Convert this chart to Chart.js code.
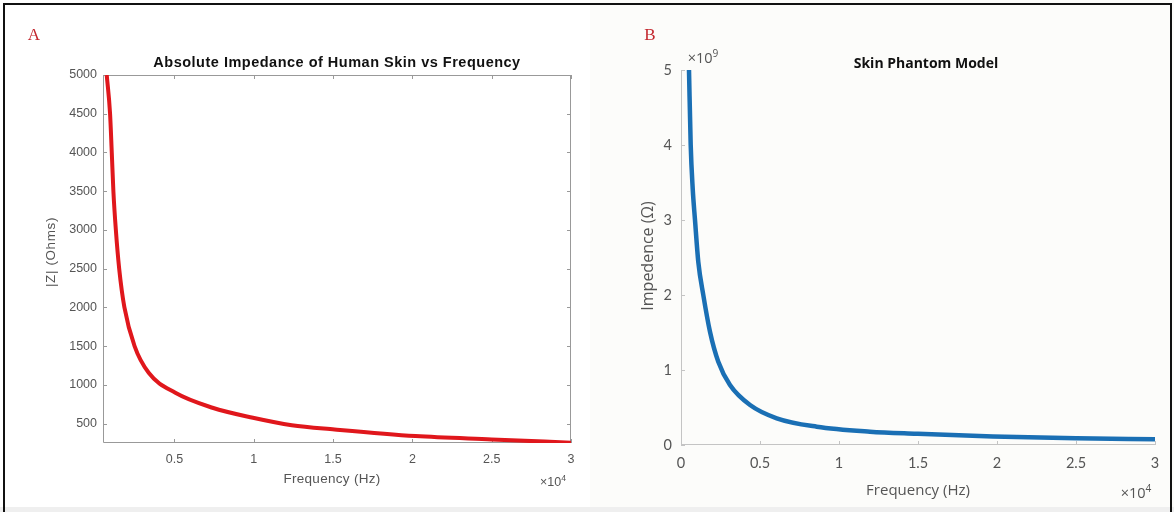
<!DOCTYPE html>
<html>
<head>
<meta charset="utf-8">
<script src="https://cdn.jsdelivr.net/npm/chart.js@4.4.1/dist/chart.umd.min.js"></script>
<style>
  html, body { margin: 0; padding: 0; background: #ffffff; }
  body { width: 1174px; height: 512px; position: relative; overflow: hidden; }
  #rightBg { position: absolute; left: 590px; top: 0; width: 584px; height: 512px; background: #fcfcfa; }
  #bottomBand { position: absolute; left: 0; top: 507px; width: 1174px; height: 5px; background: #efefef; }
  #frame { position: absolute; left: 3px; top: 3px; width: 1165px; height: 507px; border: 2.5px solid #111; border-bottom: none; }
  .panel { position: absolute; top: 0; }
  .txt { position: absolute; white-space: nowrap; transform: translate(-50%, -50%); }
  .left { font-family: "Liberation Sans", Arial, sans-serif; color: #555; }
  .right { font-family: "Open Sans", Lato, sans-serif; color: #555; }
  sup { font-size: 70%; vertical-align: 0; position: relative; top: -0.55em; }
</style>
</head>
<body>
<div id="rightBg"></div>
<div id="bottomBand"></div>
<div class="panel" style="left:0;width:590px;height:512px"><canvas id="skinChart" width="590" height="512"></canvas></div>
<div class="panel" style="left:590px;width:584px;height:512px"><canvas id="phantomChart" width="584" height="512"></canvas></div>
<div id="frame"></div>

<!-- panel A texts -->
<div class="txt" style="left:34px;top:35px;font-family:'Liberation Serif',serif;font-size:17px;color:#c3272e">A</div>
<div class="txt left" style="left:337px;top:62px;font-size:14.5px;letter-spacing:0.5px;font-weight:bold;color:#111">Absolute Impedance of Human Skin vs Frequency</div>
<div class="txt left" style="left:50px;top:252px;font-size:13.5px;letter-spacing:0.6px;transform:translate(-50%,-50%) rotate(-90deg)">|Z| (Ohms)</div>
<div class="txt left" style="left:332px;top:478px;font-size:13.5px;letter-spacing:0.3px">Frequency (Hz)</div>
<div class="txt left" style="left:553px;top:482px;font-size:12.5px">×10<sup>4</sup></div>

<!-- panel B texts -->
<div class="txt" style="left:650px;top:35px;font-family:'Liberation Serif',serif;font-size:17px;color:#c3272e">B</div>
<div class="txt right" style="left:926px;top:62px;font-size:14px;font-weight:bold;color:#111">Skin Phantom Model</div>
<div class="txt right" style="left:703px;top:57px;font-size:14.5px">×10<sup>9</sup></div>
<div class="txt right" style="left:647px;top:256px;font-size:16px;transform:translate(-50%,-50%) rotate(-90deg)">Impedence (Ω)</div>
<div class="txt right" style="left:918px;top:489px;font-size:15px">Frequency (Hz)</div>
<div class="txt right" style="left:1136px;top:492px;font-size:14.5px">×10<sup>4</sup></div>

<script>
// Panel A: human skin, |Z| in ohms vs frequency in Hz
const skinFreq = [735, 945, 1053, 1155, 1310, 1520, 1850, 2490, 3380, 5060, 7400, 9950, 12400, 15100, 20200, 25000, 30000];
const skinZ = [5000, 4500, 4000, 3500, 3000, 2500, 2000, 1500, 1156, 898, 705, 576, 480, 425, 339, 296, 254];
const skinXTicks = [5000, 10000, 15000, 20000, 25000, 30000];
const skinYTicks = [500, 1000, 1500, 2000, 2500, 3000, 3500, 4000, 4500, 5000];

// Panel B: skin phantom model, impedance in ohms
const phantomFreq = [506, 614, 740, 886, 1095, 1411, 1835, 2360, 3100, 4370, 6060, 8590, 11960, 14900, 19750, 25040, 30000];
const phantomZ = [5.0e9, 4.0e9, 3.42e9, 3.0e9, 2.44e9, 2.0e9, 1.51e9, 1.11e9, 0.80e9, 0.533e9, 0.356e9, 0.244e9, 0.178e9, 0.150e9, 0.112e9, 0.089e9, 0.076e9];
const phantomXTicks = [0, 5000, 10000, 15000, 20000, 25000, 30000];
const phantomYTicks = [0, 1e9, 2e9, 3e9, 4e9, 5e9];

// draws the matlab-like axes: box or L-shape, ticks pointing inwards
const matlabAxes = {
  id: 'matlabAxes',
  beforeDatasetsDraw(chart, args, opts) {
    const { ctx, chartArea: a, scales: { x, y } } = chart;
    const len = opts.tickLen;
    ctx.save();
    ctx.strokeStyle = opts.color;
    ctx.lineWidth = 1;
    ctx.beginPath();
    if (opts.box) {
      ctx.rect(a.left + 0.5, a.top + 0.5, a.right - a.left - 1, a.bottom - a.top - 1);
    } else {
      ctx.moveTo(a.left + 0.5, a.top);
      ctx.lineTo(a.left + 0.5, a.bottom - 0.5);
      ctx.lineTo(a.right, a.bottom - 0.5);
    }
    x.ticks.forEach(t => {
      const px = Math.round(x.getPixelForValue(t.value)) + 0.5;
      ctx.moveTo(px, a.bottom);
      ctx.lineTo(px, a.bottom - len);
      if (opts.box) {
        ctx.moveTo(px, a.top);
        ctx.lineTo(px, a.top + len);
      }
    });
    y.ticks.forEach(t => {
      const py = Math.round(y.getPixelForValue(t.value)) + 0.5;
      ctx.moveTo(a.left, py);
      ctx.lineTo(a.left + len, py);
      if (opts.box) {
        ctx.moveTo(a.right, py);
        ctx.lineTo(a.right - len, py);
      }
    });
    ctx.stroke();
    ctx.restore();
  }
};

function makeChart(id, freq, vals, cfg) {
  const points = freq.map((f, i) => ({ x: f, y: vals[i] }));
  return new Chart(document.getElementById(id), {
    type: 'line',
    data: {
      datasets: [{
        data: points,
        borderColor: cfg.lineColor,
        borderWidth: cfg.lineWidth,
        pointRadius: 0,
        fill: false,
        cubicInterpolationMode: 'monotone'
      }]
    },
    options: {
      responsive: false,
      animation: false,
      devicePixelRatio: 1,
      layout: { padding: cfg.padding },
      plugins: {
        legend: { display: false },
        tooltip: { enabled: false },
        matlabAxes: { box: cfg.box, color: cfg.axisColor, tickLen: cfg.tickLen }
      },
      scales: {
        x: {
          type: 'linear',
          min: cfg.xMin,
          max: cfg.xMax,
          afterBuildTicks: s => { s.ticks = cfg.xTicks.map(v => ({ value: v })); },
          afterFit: s => { s.height = cfg.xHeight; },
          grid: { display: false, drawTicks: false },
          border: { display: false },
          ticks: {
            padding: cfg.xPad,
            maxRotation: 0,
            color: cfg.tickColor,
            font: cfg.tickFont,
            callback: v => String(v / 1e4)
          }
        },
        y: {
          type: 'linear',
          min: cfg.yMin,
          max: cfg.yMax,
          afterBuildTicks: s => { s.ticks = cfg.yTicks.map(v => ({ value: v })); },
          afterFit: s => { s.width = cfg.yWidth; },
          grid: { display: false, drawTicks: false },
          border: { display: false },
          ticks: {
            padding: cfg.yPad,
            color: cfg.tickColor,
            font: cfg.tickFont,
            callback: v => String(v / cfg.yDiv)
          }
        }
      }
    },
    plugins: [matlabAxes]
  });
}

makeChart('skinChart', skinFreq, skinZ, {
  lineColor: '#e0171c', lineWidth: 4,
  padding: { top: 75, right: 19, left: 0, bottom: 0 },
  box: true, axisColor: '#999999', tickLen: 4,
  xMin: 500, xMax: 30000, xTicks: skinXTicks, xHeight: 69, xPad: 9,
  yMin: 250, yMax: 5000, yTicks: skinYTicks, yWidth: 103, yPad: 6, yDiv: 1,
  tickColor: '#555', tickFont: { family: '"Liberation Sans", Arial, sans-serif', size: 12.5 }
});

makeChart('phantomChart', phantomFreq, phantomZ, {
  lineColor: '#1a6fb4', lineWidth: 4.5,
  padding: { top: 70, right: 19, left: 0, bottom: 0 },
  box: false, axisColor: '#c4c4c4', tickLen: 4,
  xMin: 0, xMax: 30000, xTicks: phantomXTicks, xHeight: 67, xPad: 10,
  yMin: 0, yMax: 5e9, yTicks: phantomYTicks, yWidth: 91, yPad: 9, yDiv: 1e9,
  tickColor: '#555', tickFont: { family: 'Lato, "Open Sans", sans-serif', size: 14.5 }
});
</script>
</body>
</html>
